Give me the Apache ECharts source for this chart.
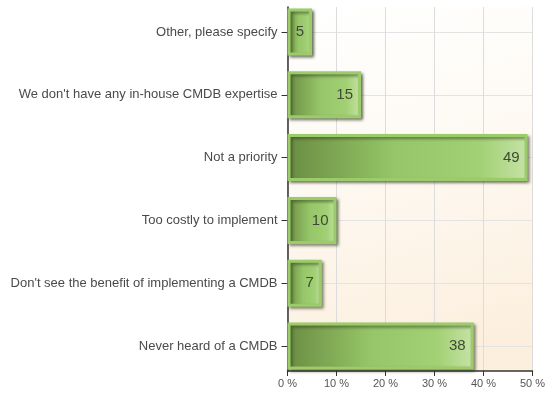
<!DOCTYPE html>
<html>
<head>
<meta charset="utf-8">
<script src="https://cdn.jsdelivr.net/npm/echarts@6/dist/echarts.min.js"></script>
<style>
html,body{margin:0;padding:0;background:#fff;}
#c{width:550px;height:395px;}
</style>
</head>
<body>
<div id="c"></div>
<script>
var categories = [
  'Other, please specify',
  "We don't have any in-house CMDB expertise",
  'Not a priority',
  'Too costly to implement',
  "Don't see the benefit of implementing a CMDB",
  'Never heard of a CMDB'
];
var values = [5, 15, 49, 10, 7, 38];
var xMin = 0, xMax = 50, xStep = 10;

var chart = echarts.init(document.getElementById('c'), null, {renderer: 'canvas'});
var FONT = 'Liberation Sans, Arial, sans-serif';
var L = 287.5, R = 17.5;

var barFill = new echarts.graphic.LinearGradient(0, 0, 1, 0, [
  {offset: 0, color: '#6a8d43'},
  {offset: 0.2, color: '#7ea653'},
  {offset: 0.45, color: '#96c669'},
  {offset: 0.8, color: '#a2d074'},
  {offset: 1, color: '#c6e3a6'}
]);

chart.setOption({
  animation: false,
  backgroundColor: '#ffffff',
  grid: [
    {left: L, right: R, top: 32, bottom: 395 - 346, containLabel: false},
    {left: L, right: R, top: 7, bottom: 24, containLabel: false, show: true, borderWidth: 0,
     backgroundColor: new echarts.graphic.LinearGradient(0, 0, 0.35, 1, [
       {offset: 0, color: '#ffffff'},
       {offset: 0.35, color: '#fefbf6'},
       {offset: 1, color: '#fcefde'}
     ])}
  ],
  xAxis: [
    {gridIndex: 0, type: 'value', min: xMin, max: xMax, interval: xStep, show: false},
    {gridIndex: 1, type: 'value', min: xMin, max: xMax, interval: xStep,
     axisLine: {show: true, lineStyle: {color: '#333', width: 1.5}},
     axisTick: {show: true, length: 5, lineStyle: {color: '#333'}},
     axisLabel: {formatter: '{value} %', color: '#555', fontFamily: FONT, fontSize: 11, margin: 7},
     splitLine: {show: true, lineStyle: {color: '#dcdcdc', width: 1}}}
  ],
  yAxis: [
    {gridIndex: 0, type: 'category', data: categories, inverse: true, boundaryGap: false,
     axisLine: {show: false},
     axisTick: {show: true, length: 6, lineStyle: {color: '#333'}},
     axisLabel: {color: '#4a4a4a', fontFamily: FONT, fontSize: 13, margin: 10, interval: 0},
     splitLine: {show: true, lineStyle: {color: '#e3e3e3', width: 1}}},
    {gridIndex: 1, type: 'value', min: 0, max: 1,
     axisLine: {show: true, onZero: false, lineStyle: {color: '#333', width: 1.5}},
     axisTick: {show: false}, axisLabel: {show: false}, splitLine: {show: false}}
  ],
  series: [{
    type: 'bar',
    xAxisIndex: 0, yAxisIndex: 0,
    data: values,
    barWidth: 47,
    clip: false,
    z: 5,
    itemStyle: {
      color: barFill,
      borderColor: '#9bcb6b',
      borderWidth: 3,
      shadowColor: 'rgba(40,50,20,0.55)',
      shadowBlur: 3,
      shadowOffsetX: 2,
      shadowOffsetY: 2
    },
    label: {
      show: true,
      position: 'insideRight',
      distance: 8,
      color: '#3e4a36',
      fontFamily: FONT,
      fontSize: 15
    }
  }]
});
</script>
</body>
</html>
